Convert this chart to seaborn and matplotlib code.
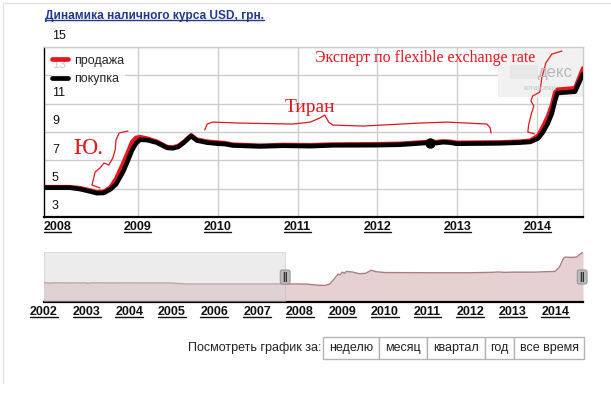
import matplotlib
matplotlib.use("Agg")
import matplotlib.pyplot as plt
import seaborn as sns
import pandas as pd
from matplotlib.lines import Line2D
from matplotlib.patches import Rectangle

# ---------------- dados ----------------
anos = [2007.83, 2008.15, 2008.28, 2008.41, 2008.49, 2008.58, 2008.66, 2008.73, 2008.82, 2008.88,
        2008.93, 2008.98, 2009.03, 2009.12, 2009.24, 2009.37, 2009.44, 2009.51, 2009.58, 2009.67,
        2009.74, 2009.87, 2009.99, 2010.09, 2010.19, 2010.53, 2010.82, 2011.16, 2011.44, 2011.99,
        2012.28, 2012.66, 2012.74, 2012.82, 2012.91, 2012.99, 2013.53, 2013.78, 2013.91, 2014.01,
        2014.07, 2014.13, 2014.18, 2014.22, 2014.25, 2014.36, 2014.47, 2014.57]
compra = [5.07, 5.07, 4.97, 4.80, 4.68, 4.70, 4.95, 5.3, 6.2, 7.0,
          7.7, 8.2, 8.45, 8.43, 8.25, 7.88, 7.85, 7.95, 8.25, 8.72,
          8.40, 8.25, 8.18, 8.15, 8.05, 7.98, 8.03, 8.0, 8.06, 8.07,
          8.1, 8.25, 8.22, 8.28, 8.25, 8.17, 8.2, 8.25, 8.3, 8.55,
          9.0, 9.6, 10.3, 11.2, 11.75, 11.8, 11.85, 13.1]
venda = [5.12, 5.12, 5.05, 4.88, 4.76, 4.80, 5.1, 5.7, 6.8, 7.6,
         8.3, 8.6, 8.65, 8.55, 8.33, 7.95, 7.92, 8.03, 8.32, 8.78,
         8.48, 8.33, 8.27, 8.23, 8.12, 8.05, 8.1, 8.08, 8.13, 8.15,
         8.18, 8.32, 8.3, 8.35, 8.32, 8.25, 8.28, 8.33, 8.4, 8.75,
         9.4, 10.1, 10.9, 11.8, 12.0, 12.05, 12.1, 13.5]
ponto_ano = [2012.66]
ponto_valor = [8.25]

anos_nav = [2002.0, 2002.1, 2002.13, 2002.16, 2002.5, 2002.7, 2003.0, 2003.03, 2003.07, 2004.0,
            2005.0, 2005.25, 2005.35, 2006.0, 2007.0, 2007.66, 2008.0, 2008.2, 2008.45, 2008.6,
            2008.7, 2008.8, 2008.9, 2008.95, 2009.0, 2009.05, 2009.1, 2009.25, 2009.4, 2009.55,
            2009.68, 2009.8, 2010.0, 2011.0, 2012.0, 2012.5, 2012.65, 2012.8, 2013.0, 2013.5,
            2014.0, 2014.1, 2014.2, 2014.25, 2014.35, 2014.5, 2014.6, 2014.65]
valores_nav = [5.33, 5.33, 5.15, 5.33, 5.33, 5.32, 5.33, 5.15, 5.33, 5.32,
               5.30, 5.10, 5.05, 5.05, 5.05, 5.05, 5.05, 4.98, 4.70, 4.70,
               5.0, 6.2, 7.6, 7.4, 8.1, 7.8, 8.3, 8.1, 7.7, 7.8,
               8.6, 8.2, 8.0, 7.95, 7.95, 8.05, 8.15, 8.05, 8.1, 8.1,
               8.3, 9.5, 11.8, 12.0, 11.9, 12.0, 12.9, 13.3]

ticks_y = [3, 5, 7, 9, 11, 13, 15]
anos_rotulo = [2008, 2009, 2010, 2011, 2012, 2013, 2014]
anos_rotulo_nav = list(range(2002, 2015))
selecao = [2002.0, 2007.66]

titulo = "Динамика наличного курса USD, грн."
botoes = ["неделю", "месяц", "квартал", "год", "все время"]

# rabiscos à mão (anotações em vermelho)
nota_ju = ([2008.53, 2008.43, 2008.47, 2008.53, 2008.58, 2008.64, 2008.69, 2008.72, 2008.73, 2008.77, 2008.88],
           [5.05, 5.26, 6.18, 6.46, 6.81, 6.67, 7.16, 7.73, 8.43, 8.93, 9.07])
nota_tiran = ([2009.84, 2009.87, 2009.94, 2010.28, 2010.94, 2011.16, 2011.28, 2011.34, 2011.39, 2011.44,
               2011.82, 2012.53, 2012.87, 2013.37, 2013.41, 2013.42],
              [9.14, 9.56, 9.70, 9.63, 9.56, 9.70, 9.99, 10.20, 9.70, 9.49,
               9.42, 9.63, 9.70, 9.56, 9.28, 8.93])
nota_expert = ([2014.305, 2014.18, 2014.105, 2014.055, 2014.03, 2013.94, 2013.92, 2013.955, 2013.92, 2013.89,
                2013.88, 2013.965],
               [14.71, 14.50, 13.87, 12.81, 11.82, 11.54, 11.19, 10.83, 10.20, 9.49, 9.0, 8.86])

# ---------------- estilo ----------------
sns.set_theme(style="white")
plt.rcParams["font.family"] = ["Liberation Sans", "DejaVu Sans"]

W, H = 611, 393
fig = plt.figure(figsize=(W / 100, H / 100), dpi=100)
fig.patch.set_facecolor("white")


def px(x0, y0, x1, y1):
    # retângulo em pixels (origem no topo) -> fração da figura
    return [x0 / W, 1 - y1 / H, (x1 - x0) / W, (y1 - y0) / H]


# moldura leve da página
fig.add_artist(Line2D([3 / W, 3 / W], [1 - 383 / H, 1 - 3 / H], color="#e2e2e2", lw=1))
fig.add_artist(Line2D([3 / W, 1], [1 - 3 / H, 1 - 3 / H], color="#e2e2e2", lw=1))

# ---------------- gráfico principal ----------------
ax = fig.add_axes(px(44, 47, 583, 217))
df = pd.DataFrame({"ano": anos, "продажа": venda, "покупка": compra})

for v in ticks_y:
    ax.axhline(v, color="#cdcdcd", lw=1, zorder=0)
for a in anos_rotulo[1:]:
    ax.axvline(a, color="#cdcdcd", lw=1, zorder=0)

sns.lineplot(data=df, x="ano", y="продажа", ax=ax, color="#e8161e", lw=3.0,
             zorder=3, solid_joinstyle="round", solid_capstyle="round")
sns.lineplot(data=df, x="ano", y="покупка", ax=ax, color="black", lw=3.3,
             zorder=4, solid_joinstyle="round", solid_capstyle="round")
ax.plot(ponto_ano, ponto_valor, "o", color="black", ms=6.5, zorder=5)

ax.set_xlim(2007.83, 2014.57)
ax.set_ylim(3, 15)
ax.set_xticks([])
ax.set_yticks([])
ax.set_xlabel("")
ax.set_ylabel("")
for lado in ["top", "right"]:
    ax.spines[lado].set_color("#cdcdcd")
    ax.spines[lado].set_linewidth(1)
ax.spines["left"].set_color("black")
ax.spines["left"].set_linewidth(1)
ax.spines["bottom"].set_color("black")
ax.spines["bottom"].set_linewidth(1.6)

# rótulos do eixo Y (acima das linhas de grade)
for v in ticks_y:
    ax.text(2007.83 + 0.1, v + 0.75, str(v), fontsize=9, ha="left", va="center",
            color="#111111", zorder=1, clip_on=False)

# rótulos dos anos
textos_sub = []
for a in anos_rotulo:
    t = ax.annotate(str(a), xy=(a, 3), xytext=(0, -7.3), textcoords="offset points",
                    ha="center", va="center", fontsize=9, fontweight="bold", color="#111111")
    textos_sub.append((t, "#111111"))

# marca d'água "Яндекс котировки"
ax.add_patch(Rectangle((498 / W, 1 - 97 / H), 85 / W, 49 / H, transform=fig.transFigure,
                       fc="#f1f1f1", ec="none", zorder=1))
ax.add_patch(Rectangle((510 / W, 1 - 79 / H), 28 / W, 14 / H, transform=fig.transFigure,
                       fc="#e4e4e4", ec="none", zorder=1, alpha=0.7))
fig.text(538 / W, 1 - 72 / H, "декс", fontsize=12, color="#b8b8b8", ha="left", va="center", zorder=1)
fig.text(540 / W, 1 - 89 / H, "котировки", fontsize=5, color="#c6c6c6", ha="center", va="center", zorder=1)

# legenda
leg = ax.legend(handles=[Line2D([], [], color="#e8161e", lw=3.4), Line2D([], [], color="black", lw=3.4)],
                labels=["продажа", "покупка"], loc="upper left", bbox_to_anchor=(8 / 539, 0.954),
                fontsize=9, frameon=True, framealpha=0.8, edgecolor="none", handlelength=1.3,
                handletextpad=0.5, labelspacing=0.52, borderpad=0.0, borderaxespad=0.0)
leg.get_frame().set_facecolor("white")
leg.set_zorder(6)

# anotações à mão
vermelho = "#e4161e"
for xs, ys in [nota_ju, nota_tiran, nota_expert]:
    ax.plot(xs, ys, color=vermelho, lw=0.9, zorder=7, clip_on=False)
ax.text(2008.39, 7.87, "Ю.", family=["Liberation Serif", "DejaVu Serif"], fontsize=17,
        color=vermelho, ha="center", va="center", zorder=7)
ax.text(2011.16, 10.76, "Тиран", family=["Liberation Serif", "DejaVu Serif"], fontsize=14,
        color=vermelho, ha="center", va="center", zorder=7)
ax.text(2012.6, 14.22, "Эксперт по flexible exchange rate", family=["Liberation Serif", "DejaVu Serif"],
        fontsize=11.5, color=vermelho, ha="center", va="center", zorder=7)

# título
t_tit = fig.text(45 / W, 1 - 16 / H, titulo, fontsize=8.6, fontweight="bold", color="#23398c",
                 ha="left", va="center")
textos_sub.append((t_tit, "#23398c"))

# ---------------- navegador ----------------
ax2 = fig.add_axes(px(44, 252, 583, 302))
ax2.fill_between(anos_nav, valores_nav, 0.4, color="#e7d0d1", lw=0, zorder=1)
sns.lineplot(x=anos_nav, y=valores_nav, ax=ax2, color="#a98082", lw=1, zorder=2)
ax2.axvspan(selecao[0], selecao[1], fc="#d6d6d6", alpha=0.45, ec="#bcbcbc", lw=0.8, zorder=3)
ax2.set_xlim(2002, 2014.65)
ax2.set_ylim(0.4, 13.3)
ax2.set_xticks([])
ax2.set_yticks([])
for lado in ["top", "right", "left"]:
    ax2.spines[lado].set_visible(False)
ax2.spines["bottom"].set_color("black")
ax2.spines["bottom"].set_linewidth(1.6)
for xh in [selecao[1], 2014.63]:
    ax2.text(xh, 6.85, "||", fontsize=7.5, fontweight="bold", color="#333333", ha="center", va="center",
             zorder=6, clip_on=False,
             bbox=dict(boxstyle="round,pad=0.2", fc="#b9b9b9", ec="#8c8c8c", lw=0.6))
for a in anos_rotulo_nav:
    t = ax2.annotate(str(a), xy=(a, 0.4), xytext=(0, -7.3), textcoords="offset points",
                     ha="center", va="center", fontsize=9, fontweight="bold", color="#111111")
    textos_sub.append((t, "#111111"))

# ---------------- botões de período ----------------
bordas = [323, 379, 427, 485, 514, 584]
fig.text(321 / W, 1 - 348 / H, "Посмотреть график за:", fontsize=9, color="#222222",
         ha="right", va="center")
for nome, x0, x1 in zip(botoes, bordas[:-1], bordas[1:]):
    fig.add_artist(Rectangle((x0 / W, 1 - 359 / H), (x1 - x0) / W, 22 / H, transform=fig.transFigure,
                             fc="white", ec="#b4b4b4", lw=1))
    fig.text((x0 + x1) / 2 / W, 1 - 348 / H, nome, fontsize=9, color="#222222", ha="center", va="center")

# sublinhado dos links
fig.canvas.draw()
rend = fig.canvas.get_renderer()
inv = fig.transFigure.inverted()
for t, cor in textos_sub:
    bb = t.get_window_extent(rend)
    (x0, y0), (x1, _) = inv.transform([(bb.x0, bb.y0 + 1.5), (bb.x1, bb.y0 + 1.5)])
    fig.add_artist(Line2D([x0, x1], [y0, y0], color=cor, lw=1))

fig.savefig("out.png", dpi=100)
plt.close()
